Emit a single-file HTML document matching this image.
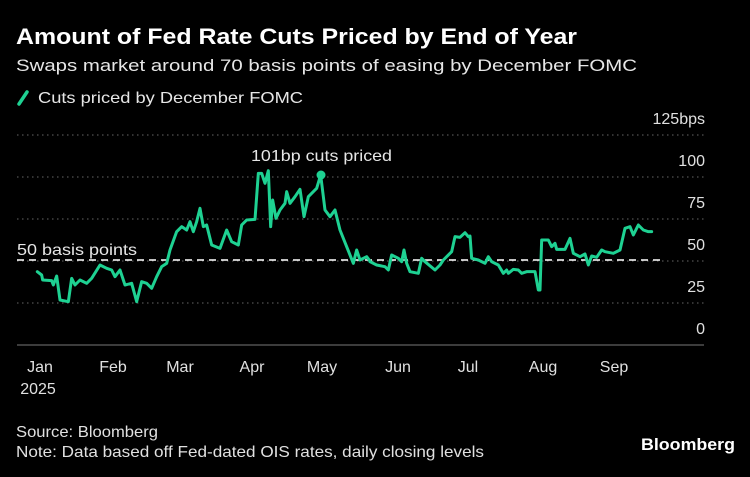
<!DOCTYPE html>
<html><head><meta charset="utf-8"><style>
body{margin:0;background:#000;width:750px;height:472px;overflow:hidden;font-family:"Liberation Sans",sans-serif;color:#fff}
</style></head><body>
<svg width="750" height="472" viewBox="0 0 750 472" xmlns="http://www.w3.org/2000/svg" font-family="Liberation Sans, sans-serif">
<rect width="750" height="472" fill="#000"/>
<text x="16" y="44" font-size="22" font-weight="bold" fill="#fff" textLength="561" lengthAdjust="spacingAndGlyphs">Amount of Fed Rate Cuts Priced by End of Year</text>
<text x="16" y="71" font-size="17" fill="#e6e6e6" textLength="621" lengthAdjust="spacingAndGlyphs">Swaps market around 70 basis points of easing by December FOMC</text>
<line x1="19" y1="104" x2="27" y2="92" stroke="#1ed192" stroke-width="3.5" stroke-linecap="round"/>
<text x="38" y="103" font-size="16" fill="#e6e6e6" textLength="265" lengthAdjust="spacingAndGlyphs">Cuts priced by December FOMC</text>
<g stroke="#666" stroke-width="1" stroke-dasharray="1.5,3.5">
<line x1="17" y1="135" x2="704" y2="135"/>
<line x1="17" y1="177" x2="704" y2="177"/>
<line x1="17" y1="219" x2="704" y2="219"/>
<line x1="17" y1="261" x2="704" y2="261"/>
<line x1="17" y1="303" x2="704" y2="303"/>
</g>
<line x1="17" y1="345" x2="704" y2="345" stroke="#777" stroke-width="1"/>
<g font-size="16" fill="#e0e0e0" text-anchor="end">
<text x="705" y="124">125bps</text>
<text x="705" y="166">100</text>
<text x="705" y="208">75</text>
<text x="705" y="250">50</text>
<text x="705" y="292">25</text>
<text x="705" y="334">0</text>
</g>
<g font-size="16" fill="#e0e0e0" text-anchor="middle">
<text x="40" y="372">Jan</text><text x="38" y="394">2025</text>
<text x="113" y="372">Feb</text><text x="180" y="372">Mar</text>
<text x="252" y="372">Apr</text><text x="322" y="372">May</text>
<text x="398" y="372">Jun</text><text x="468" y="372">Jul</text>
<text x="543" y="372">Aug</text><text x="614" y="372">Sep</text>
</g>
<line x1="17" y1="260" x2="662" y2="260" stroke="#fff" stroke-width="1.6" stroke-dasharray="7,5"/>
<text x="17" y="255" font-size="16" fill="#e6e6e6" textLength="120" lengthAdjust="spacingAndGlyphs">50 basis points</text>
<text x="251" y="161" font-size="16" fill="#e6e6e6" textLength="141" lengthAdjust="spacingAndGlyphs">101bp cuts priced</text>
<g fill="none" stroke="#1ed192" stroke-width="3" stroke-linejoin="round" stroke-linecap="round">
<polyline vector-effect="non-scaling-stroke" transform="translate(0,150) scale(0.33333)" points="112,365 125,375 128,390 155,392 160,405 170,378 180,450 205,455 215,385 225,405 240,390 260,400 275,385 300,345 320,355 335,360 345,380 360,360 375,405 395,400 410,455 425,395 440,400 455,415 470,380 485,350 500,340 510,300 530,245 545,230 560,240 570,215 580,245 590,215 600,175 610,230 620,225 635,285 660,295 680,240 695,275 715,285 725,225 740,210 765,208 775,70 785,70 795,100 805,62 812,230 818,150 828,205 840,180 855,160 860,125 870,160 885,140 900,118 912,200 925,140 950,115 962,75 975,180 990,200 1005,180 1020,240 1040,290 1060,340 1070,300 1080,330 1100,320 1110,333"/>
<polyline vector-effect="non-scaling-stroke" transform="translate(370,150) scale(0.33333)" points="0,335 20,345 45,350 55,360 65,315 85,325 95,335 102,300 110,340 120,365 145,370 155,325 165,335 195,360 210,345 220,330 245,305 255,260 270,262 285,248 295,260 300,258 305,325 325,330 345,340 355,320 365,335 385,345 400,370 410,360 415,370 430,358 445,360 455,370 470,365 495,365 505,420 510,420 515,270 535,270 545,290 555,280 560,298 585,298 600,265 610,310 630,320 645,312 655,345 665,318 680,322 695,300 705,305 730,310 750,300 765,235 780,230 790,255 805,225 820,240 835,245 845,245"/>
</g>
<circle cx="321" cy="175" r="4.5" fill="#1ed192"/>
<text x="16" y="437" font-size="16" fill="#e0e0e0" textLength="142" lengthAdjust="spacingAndGlyphs">Source: Bloomberg</text>
<text x="16" y="457" font-size="16" fill="#e0e0e0" textLength="468" lengthAdjust="spacingAndGlyphs">Note: Data based off Fed-dated OIS rates, daily closing levels</text>
<text x="735" y="450" font-size="17" font-weight="bold" fill="#fff" text-anchor="end" textLength="94" lengthAdjust="spacingAndGlyphs">Bloomberg</text>
</svg>
</body></html>
